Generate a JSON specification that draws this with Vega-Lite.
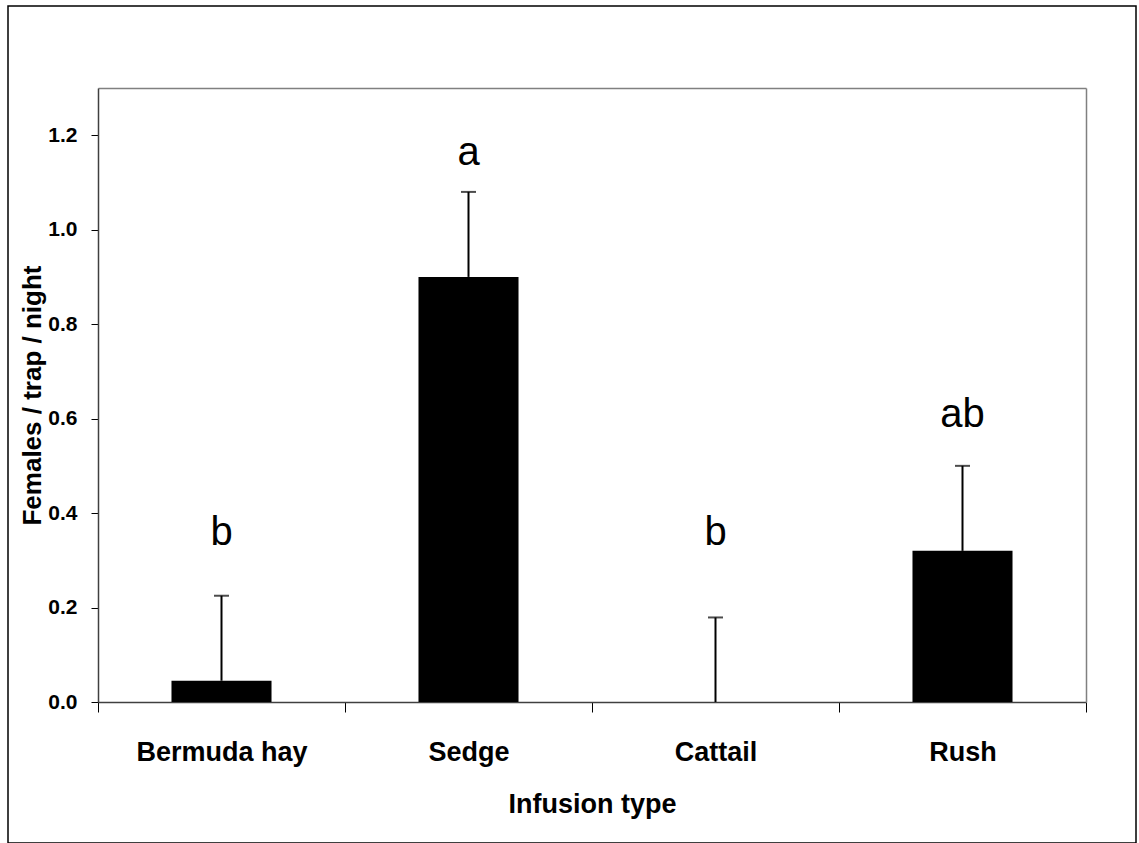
{
  "$schema": "https://vega.github.io/schema/vega-lite/v6.json",
  "autosize": "none",
  "padding": {"left": 8, "top": 6, "right": 3, "bottom": 0},
  "width": 1128,
  "height": 837,
  "background": "white",
  "config": {
    "view": {"stroke": "#000000", "strokeWidth": 1.5},
    "font": "Liberation Sans"
  },
  "data": {
    "values": [
      {"type": "Bermuda hay", "mean": 0.045, "upper": 0.225, "letter": "b", "ly": 0.332},
      {"type": "Sedge", "mean": 0.9, "upper": 1.08, "letter": "a", "ly": 1.137},
      {"type": "Cattail", "mean": 0.0, "upper": 0.179, "letter": "b", "ly": 0.332},
      {"type": "Rush", "mean": 0.32, "upper": 0.5, "letter": "ab", "ly": 0.582}
    ]
  },
  "resolve": {"axis": {"x": "independent", "y": "independent"}},
  "layer": [
    {
      "mark": {"type": "bar", "color": "#000000", "width": {"band": 0.405}},
      "encoding": {
        "x": {
          "field": "type", "type": "nominal", "sort": null,
          "scale": {"range": [90, 1078], "paddingInner": 0, "paddingOuter": 0},
          "axis": {
            "orient": "bottom", "offset": -141, "title": "Infusion type",
            "labelAngle": 0, "labelFont": "Liberation Sans", "labelFontSize": 27, "labelFontWeight": "bold", "labelColor": "#000000",
            "labelBaseline": "alphabetic", "labelPadding": 48,
            "tickBand": "extent", "tickSize": 10, "tickColor": "#000000", "tickWidth": 1,
            "domainColor": "#404040", "domainWidth": 1.5,
            "titleFont": "Liberation Sans", "titleFontSize": 27, "titleFontWeight": "bold", "titleColor": "#000000",
            "titleBaseline": "alphabetic", "titleY": 110
          }
        },
        "y": {
          "field": "mean", "type": "quantitative",
          "scale": {"domain": [0, 1.3], "range": [696, 82], "nice": false, "zero": true},
          "axis": {
            "orient": "left", "offset": -90, "title": "Females / trap / night",
            "values": [0, 0.2, 0.4, 0.6, 0.8, 1.0, 1.2], "format": ".1f",
            "labelFont": "Liberation Sans", "labelFontSize": 21, "labelFontWeight": "bold", "labelColor": "#000000",
            "labelPadding": 14, "tickSize": 7, "tickColor": "#000000", "tickWidth": 1,
            "domainColor": "#404040", "domainWidth": 1.5, "grid": false,
            "titleFont": "Liberation Sans", "titleFontSize": 26, "titleFontWeight": "bold", "titleColor": "#000000",
            "titleBaseline": "alphabetic", "titleX": -58, "titleAngle": -90
          }
        }
      }
    },
    {
      "mark": {"type": "rule", "color": "#000000", "strokeWidth": 2},
      "encoding": {
        "x": {
          "field": "type", "type": "nominal", "sort": null,
          "scale": {"range": [90, 1078], "paddingInner": 0, "paddingOuter": 0},
          "axis": {"orient": "top", "offset": -82, "title": null, "labels": false, "ticks": false, "domainColor": "#808080", "domainWidth": 1.5}
        },
        "y": {
          "field": "mean", "type": "quantitative",
          "scale": {"domain": [0, 1.3], "range": [696, 82], "nice": false, "zero": true},
          "axis": {"orient": "right", "offset": -50, "title": null, "labels": false, "ticks": false, "grid": false, "domainColor": "#808080", "domainWidth": 1.5}
        },
        "y2": {"field": "upper"}
      }
    },
    {
      "mark": {"type": "tick", "color": "#000000", "size": 15, "thickness": 2},
      "encoding": {
        "x": {"field": "type", "type": "nominal", "sort": null, "axis": null,
          "scale": {"range": [90, 1078], "paddingInner": 0, "paddingOuter": 0}},
        "y": {"field": "upper", "type": "quantitative", "axis": null,
          "scale": {"domain": [0, 1.3], "range": [696, 82], "nice": false, "zero": true}}
      }
    },
    {
      "mark": {"type": "text", "color": "#000000", "font": "Liberation Sans", "fontSize": 40, "baseline": "alphabetic", "align": "center"},
      "encoding": {
        "x": {"field": "type", "type": "nominal", "sort": null, "axis": null,
          "scale": {"range": [90, 1078], "paddingInner": 0, "paddingOuter": 0}},
        "y": {"field": "ly", "type": "quantitative", "axis": null,
          "scale": {"domain": [0, 1.3], "range": [696, 82], "nice": false, "zero": true}},
        "text": {"field": "letter"}
      }
    }
  ]
}
